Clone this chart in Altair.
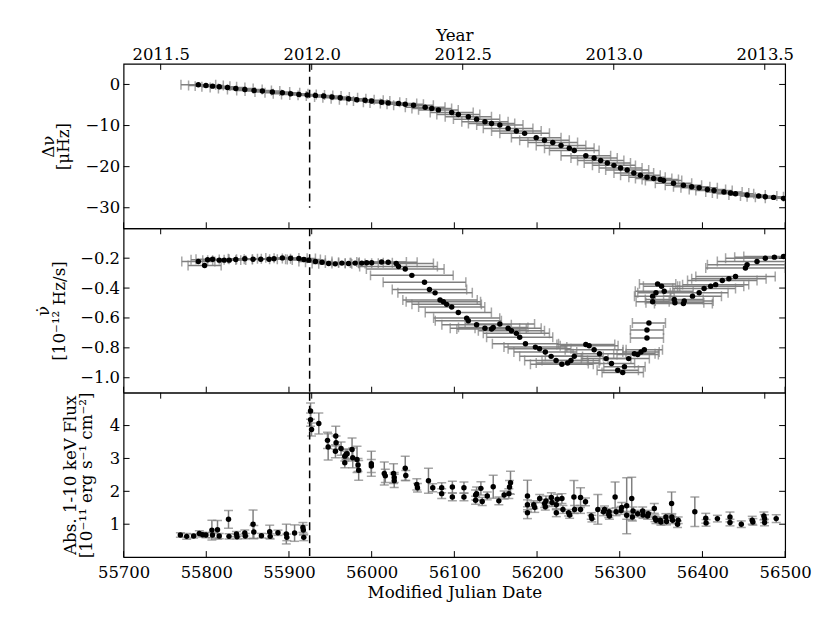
import altair as alt
import pandas as pd

# ---------------- data ----------------
dnu_mjd = [55790.4, 55799.6, 55807.6, 55815.7, 55825.7, 55835.7, 55846.6, 55857.8, 55867.9, 55879.9,
           55892.0, 55902.0, 55912.0, 55922.0, 55932.0, 55942.0, 55952.0, 55962.0, 55972.0, 55982.0,
           55992.0, 56000.0, 56012.0, 56020.0, 56032.5, 56040.6, 56050.6, 56064.7, 56072.7, 56080.7,
           56096.8, 56104.8, 56116.9, 56126.9, 56137.0, 56145.0, 56155.0, 56165.0, 56175.0, 56185.0,
           56199.0, 56209.0, 56219.0, 56229.0, 56239.0, 56245.0, 56259.0, 56269.0, 56277.0, 56285.0,
           56293.0, 56301.0, 56309.0, 56317.0, 56325.0, 56333.0, 56341.0, 56349.0, 56353.0, 56365.0,
           56377.0, 56387.0, 56396.0, 56406.0, 56414.0, 56426.0, 56434.0, 56440.0, 56454.0, 56468.0,
           56476.0, 56486.0, 56498.0]
dnu_val = [-0.09, -0.25, -0.41, -0.57, -0.73, -0.97, -1.21, -1.45, -1.61, -1.86,
           -2.02, -2.26, -2.42, -2.58, -2.66, -2.82, -3.06, -3.22, -3.46, -3.70,
           -3.86, -4.02, -4.34, -4.50, -4.66, -4.82, -5.06, -5.54, -5.87, -6.19,
           -6.84, -7.32, -7.88, -8.44, -9.08, -9.49, -9.89, -10.69, -11.33, -11.90,
           -12.94, -13.58, -14.14, -14.87, -15.51, -16.07, -17.36, -17.92, -18.48, -19.12,
           -19.69, -20.33, -20.81, -21.53, -22.10, -22.58, -22.90, -23.14, -23.38, -24.02,
           -24.51, -24.91, -25.15, -25.55, -25.79, -26.19, -26.43, -26.59, -26.92, -27.16,
           -27.32, -27.48, -27.72]
dnu_xerr = [21, 21, 21, 21, 21, 21, 21, 21, 21, 21,
            21, 21, 21, 21, 21, 21, 21, 21, 21, 21,
            22, 22, 22, 22, 22, 22, 24, 24, 24, 24,
            26, 26, 28, 28, 28, 28, 28, 30, 30, 30,
            30, 30, 30, 30, 30, 30, 30, 28, 28, 28,
            26, 26, 26, 24, 24, 22, 22, 22, 22, 22,
            22, 22, 22, 22, 22, 22, 22, 22, 22, 22,
            22, 22, 22]

nudot_mjd = [55790.4, 55798.0, 55801.6, 55807.6, 55815.7, 55821.7, 55827.7, 55835.7, 55846.6, 55856.6,
             55865.9, 55875.9, 55881.9, 55892.0, 55902.0, 55912.0, 55918.0, 55924.0, 55932.0, 55940.0,
             55948.0, 55956.0, 55964.0, 55972.0, 55980.0, 55988.0, 55994.0, 56000.0, 56012.0, 56020.0,
             56029.7, 56032.5, 56040.6, 56048.6, 56063.9, 56069.9, 56076.7, 56082.7, 56086.7, 56090.7,
             56096.8, 56104.8, 56114.9, 56116.9, 56126.9, 56137.0, 56145.0, 56147.0, 56155.0, 56165.0,
             56169.0, 56175.0, 56179.0, 56186.0, 56198.0, 56203.0, 56210.0, 56217.0, 56223.0, 56230.0,
             56237.0, 56241.0, 56245.0, 56259.0, 56263.0, 56269.0, 56275.5, 56283.5, 56290.0, 56297.6,
             56303.6, 56305.7, 56310.8, 56317.7, 56321.7, 56325.7, 56329.7, 56332.9, 56332.9, 56335.3,
             56339.8, 56339.8, 56343.8, 56345.8, 56350.6, 56353.8, 56365.9, 56366.7, 56377.0, 56378.0,
             56388.0, 56396.0, 56402.0, 56410.0, 56416.0, 56424.0, 56432.0, 56440.0, 56452.0, 56454.0,
             56466.0, 56476.0, 56487.0, 56498.0]
nudot_val = [-0.222, -0.249, -0.211, -0.207, -0.213, -0.213, -0.213, -0.209, -0.204, -0.207,
             -0.207, -0.207, -0.204, -0.198, -0.200, -0.202, -0.209, -0.213, -0.222, -0.227,
             -0.236, -0.238, -0.233, -0.236, -0.233, -0.233, -0.231, -0.231, -0.225, -0.227,
             -0.236, -0.256, -0.273, -0.315, -0.361, -0.410, -0.432, -0.480, -0.491, -0.509,
             -0.527, -0.564, -0.601, -0.619, -0.646, -0.669, -0.674, -0.663, -0.641, -0.669,
             -0.685, -0.703, -0.729, -0.773, -0.795, -0.806, -0.828, -0.857, -0.884, -0.910,
             -0.901, -0.884, -0.857, -0.778, -0.786, -0.813, -0.839, -0.872, -0.905, -0.950,
             -0.965, -0.927, -0.872, -0.839, -0.844, -0.828, -0.813, -0.734, -0.681, -0.634,
             -0.491, -0.454, -0.431, -0.372, -0.388, -0.421, -0.476, -0.498, -0.504, -0.487,
             -0.454, -0.431, -0.403, -0.388, -0.377, -0.350, -0.337, -0.322, -0.266, -0.244,
             -0.222, -0.200, -0.193, -0.189]
nudot_xerr = [20, 20, 20, 20, 20, 20, 20, 20, 20, 20,
              20, 20, 20, 20, 20, 20, 20, 20, 20, 20,
              20, 20, 20, 20, 20, 20, 20, 25, 30, 35,
              45, 47, 47, 50, 50, 45, 45, 45, 45, 42,
              40, 40, 40, 40, 42, 42, 42, 42, 42, 40,
              40, 40, 40, 40, 38, 38, 38, 38, 38, 38,
              38, 35, 35, 35, 35, 35, 32, 30, 28, 25,
              25, 25, 25, 25, 25, 22, 22, 20, 20, 20,
              20, 22, 22, 22, 22, 35, 35, 35, 35, 35,
              35, 35, 38, 40, 40, 42, 45, 48, 48, 48,
              48, 48, 48, 48]

flux_mjd = [55768.7, 55776.3, 55784.7, 55791.6, 55795.6, 55799.6, 55806.8, 55807.5, 55813.6, 55815.7,
            55826.9, 55827.5, 55836.5, 55837.2, 55846.6, 55847.2, 55856.6, 55857.5, 55866.7, 55876.7,
            55877.3, 55886.7, 55896.8, 55897.4, 55906.8, 55916.9, 55917.4, 55917.9,
            55926.1, 55926.1, 55927.3, 55936.1, 55946.6, 55947.4, 55956.2, 55956.6, 55957.0, 55963.0,
            55967.5, 55967.5, 55969.0, 55970.3, 55976.3, 55977.1, 55982.3, 55983.5, 55984.3, 55999.6,
            55999.6, 56015.3, 56016.5, 56026.5, 56027.3, 56027.3, 56040.6, 56041.3, 56054.6, 56055.4,
            56068.7, 56073.9, 56084.7, 56084.7, 56097.6, 56097.6, 56111.6, 56111.6, 56125.7, 56125.7,
            56126.9, 56132.1, 56133.7, 56139.8, 56147.0, 56153.8, 56160.2, 56165.9, 56166.7, 56167.9,
            56188.4, 56188.4, 56188.4, 56196.0, 56197.2, 56203.2, 56209.2, 56210.0, 56210.8, 56217.3,
            56218.1, 56223.3, 56223.3, 56224.5, 56230.1, 56231.3, 56238.2, 56239.4, 56244.6, 56245.4,
            56252.6, 56252.6, 56258.6, 56265.5, 56266.3, 56273.5, 56280.3, 56281.6, 56286.7, 56287.1,
            56287.5, 56294.4, 56295.6, 56301.6, 56302.4, 56308.4, 56308.4, 56314.5, 56315.3, 56316.1,
            56321.7, 56327.7, 56328.1, 56333.7, 56334.5, 56341.8, 56342.6, 56343.8, 56349.0, 56349.8,
            56355.8, 56356.6, 56362.7, 56363.0, 56363.9, 56369.9, 56370.7, 56390.8, 56404.0, 56404.4,
            56418.1, 56433.3, 56433.3, 56447.0, 56460.2, 56461.0, 56474.3, 56475.1, 56475.1, 56489.2]
flux_val = [0.67, 0.63, 0.64, 0.72, 0.68, 0.67, 0.82, 0.67, 0.83, 0.64,
            1.15, 0.63, 0.70, 0.62, 0.73, 0.64, 1.00, 0.76, 0.65, 0.77,
            0.63, 0.74, 0.70, 0.60, 0.73, 0.90, 0.82, 0.60,
            4.44, 4.18, 3.88, 4.06, 3.55, 3.35, 3.22, 3.68, 3.48, 3.30,
            3.07, 2.87, 3.12, 3.14, 3.27, 3.02, 2.97, 2.80, 2.64, 2.84,
            2.77, 2.54, 2.47, 2.54, 2.32, 2.42, 2.70, 2.48, 2.21, 2.11,
            2.32, 2.11, 2.11, 1.93, 2.13, 1.83, 2.11, 1.83, 1.89, 1.73,
            1.93, 2.09, 1.69, 1.86, 2.14, 1.71, 1.89, 1.93, 2.13, 2.26,
            1.86, 1.59, 1.35, 1.59, 1.51, 1.78, 1.63, 1.53, 1.71, 1.81,
            1.66, 1.35, 1.59, 1.76, 1.78, 1.45, 1.35, 1.28, 1.83, 1.45,
            1.81, 1.45, 1.68, 1.25, 1.17, 1.45, 1.38, 1.45, 1.30, 1.38,
            1.25, 1.83, 1.38, 1.42, 1.51, 1.56, 1.27, 1.78, 1.22, 1.40,
            1.32, 1.40, 1.28, 1.25, 1.32, 1.48, 1.18, 1.12, 1.12, 1.07,
            1.22, 1.08, 1.63, 1.22, 1.12, 1.00, 1.12, 1.38, 1.18, 1.04,
            1.17, 1.22, 1.05, 1.00, 1.12, 1.07, 1.25, 1.17, 1.05, 1.17]
flux_err = [0.07, 0.09, 0.06, 0.08, 0.07, 0.08, 0.30, 0.08, 0.28, 0.08,
            0.27, 0.08, 0.08, 0.07, 0.09, 0.08, 0.43, 0.20, 0.07, 0.20,
            0.08, 0.08, 0.30, 0.10, 0.25, 0.15, 0.15, 0.10,
            0.25, 0.20, 0.20, 0.32, 0.25, 0.40, 0.20, 0.30, 0.20, 0.20,
            0.15, 0.15, 0.15, 0.15, 0.35, 0.30, 0.40, 0.20, 0.30, 0.38,
            0.20, 0.35, 0.20, 0.30, 0.20, 0.15, 0.37, 0.15, 0.17, 0.13,
            0.38, 0.12, 0.15, 0.15, 0.18, 0.12, 0.17, 0.12, 0.15, 0.12,
            0.20, 0.20, 0.12, 0.12, 0.35, 0.12, 0.12, 0.15, 0.20, 0.35,
            0.48, 0.15, 0.18, 0.12, 0.15, 0.12, 0.12, 0.10, 0.15, 0.15,
            0.12, 0.12, 0.15, 0.15, 0.15, 0.12, 0.10, 0.10, 0.50, 0.12,
            0.30, 0.12, 0.12, 0.10, 0.10, 0.45, 0.12, 0.10, 0.10, 0.10,
            0.10, 0.45, 0.12, 0.12, 0.15, 0.85, 0.12, 0.65, 0.12, 0.12,
            0.10, 0.12, 0.10, 0.10, 0.10, 0.15, 0.10, 0.10, 0.10, 0.10,
            0.10, 0.10, 0.35, 0.10, 0.10, 0.10, 0.10, 0.45, 0.15, 0.10,
            0.10, 0.15, 0.10, 0.10, 0.12, 0.10, 0.12, 0.12, 0.10, 0.12]

mjd_ticks = [55700, 55800, 55900, 56000, 56100, 56200, 56300, 56400, 56500]
year_ticks = [2011.5, 2012.0, 2012.5, 2013.0, 2013.5]
dnu_ticks = [0, -10, -20, -30]
nudot_ticks = [-1.0, -0.8, -0.6, -0.4, -0.2]
flux_ticks = [1, 2, 3, 4]
outburst_mjd = [55925]

# ---------------- styling ----------------
W, H = 664, 165
FONT = "DejaVu Serif"
GRAY = "#808080"
TICK = 6
LFS = 16.5   # tick label font size
TFS = 16.8   # title font size
MJD_DOMAIN = [55700, 56500]


def mjd_to_year(m):
    return 2000 + (m - 51544.5) / 365.25


YEAR_DOMAIN = [mjd_to_year(MJD_DOMAIN[0]), mjd_to_year(MJD_DOMAIN[1])]
xs = alt.Scale(domain=MJD_DOMAIN, nice=False, zero=False)
xyear = alt.Scale(domain=YEAR_DOMAIN, nice=False, zero=False)


def panel(df, ydomain, yticks, yfmt, ytitle, title_pad, horizontal, top_axis, bottom_axis, dash_y=None):
    ys = alt.Scale(domain=ydomain, nice=False, zero=False)
    base = alt.Chart(df)
    layers = []
    if horizontal:
        layers.append(base.mark_rule(color=GRAY, strokeWidth=1.5, clip=True).encode(
            x=alt.X("lo:Q", scale=xs, axis=None), x2="hi:Q",
            y=alt.Y("val:Q", scale=ys, axis=None)))
        for f in ["lo", "hi"]:
            layers.append(base.mark_tick(orient="vertical", color=GRAY, size=10, thickness=1.5, clip=True).encode(
                x=alt.X(f + ":Q", scale=xs, axis=None),
                y=alt.Y("val:Q", scale=ys, axis=None)))
    else:
        layers.append(base.mark_rule(color=GRAY, strokeWidth=1.5, clip=True).encode(
            x=alt.X("mjd:Q", scale=xs, axis=None),
            y=alt.Y("lo:Q", scale=ys, axis=None), y2="hi:Q"))
        for f in ["lo", "hi"]:
            layers.append(base.mark_tick(orient="horizontal", color=GRAY, size=9, thickness=1.5, clip=True).encode(
                x=alt.X("mjd:Q", scale=xs, axis=None),
                y=alt.Y(f + ":Q", scale=ys, axis=None)))
    # points (carry the y axis)
    layers.append(base.mark_circle(size=30, color="black", opacity=1, clip=True).encode(
        x=alt.X("mjd:Q", scale=xs, axis=None),
        y=alt.Y("val:Q", scale=ys, axis=alt.Axis(
            values=yticks, format=yfmt, title=ytitle, ticks=False, domain=False, grid=False,
            labelPadding=4, titlePadding=title_pad, titleFontSize=TFS, titleLineHeight=16,
            labelFontSize=LFS, titleFont=FONT, labelFont=FONT, titleFontWeight="normal"))))
    # outburst dashed line
    dash_df = pd.DataFrame({"m": outburst_mjd})
    if dash_y is None:
        layers.append(alt.Chart(dash_df).mark_rule(color="black", strokeWidth=1.5, strokeDash=[8, 5]).encode(
            x=alt.X("m:Q", scale=xs, axis=None)))
    else:
        dash_df = dash_df.assign(y0=dash_y[0], y1=dash_y[1])
        layers.append(alt.Chart(dash_df).mark_rule(color="black", strokeWidth=1.5, strokeDash=[8, 5]).encode(
            x=alt.X("m:Q", scale=xs, axis=None),
            y=alt.Y("y0:Q", scale=ys, axis=None), y2="y1:Q"))
    # inward y ticks, left and right
    yt = pd.DataFrame({"t": yticks})
    layers.append(alt.Chart(yt).mark_rule(color="black", strokeWidth=1).encode(
        y=alt.Y("t:Q", scale=ys, axis=None), x=alt.value(0), x2=alt.value(TICK)))
    layers.append(alt.Chart(yt).mark_rule(color="black", strokeWidth=1).encode(
        y=alt.Y("t:Q", scale=ys, axis=None), x=alt.value(W), x2=alt.value(W - TICK)))
    # inward MJD ticks at the bottom (and the MJD axis labels on the last panel)
    mt = pd.DataFrame({"t": mjd_ticks})
    if bottom_axis:
        max_ = alt.Axis(values=mjd_ticks, format="d", title="Modified Julian Date", orient="bottom",
                        ticks=False, domain=False, grid=False, labelFlush=False, labelOverlap=False,
                        labelPadding=7, titlePadding=4, labelFontSize=LFS, titleFontSize=TFS,
                        labelFont=FONT, titleFont=FONT, titleFontWeight="normal")
    else:
        max_ = None
    layers.append(alt.Chart(mt).mark_rule(color="black", strokeWidth=1).encode(
        x=alt.X("t:Q", scale=xs, axis=max_), y=alt.value(H), y2=alt.value(H - TICK)))
    # inward year ticks at the top (and the Year axis labels on the first panel)
    yrt = pd.DataFrame({"t": year_ticks})
    if top_axis:
        yax = alt.Axis(values=year_ticks, format=".1f", title="Year", orient="top",
                       ticks=False, domain=False, grid=False, labelFlush=False, labelOverlap=False,
                       labelPadding=1, titlePadding=2, labelFontSize=LFS, titleFontSize=TFS,
                       labelFont=FONT, titleFont=FONT, titleFontWeight="normal")
    else:
        yax = None
    layers.append(alt.Chart(yrt).mark_rule(color="black", strokeWidth=1).encode(
        x=alt.X("t:Q", scale=xyear, axis=yax), y=alt.value(0), y2=alt.value(TICK)))
    return (alt.layer(*layers)
            .resolve_scale(x="independent")
            .resolve_axis(y="independent")
            .properties(width=W, height=H))


dnu_df = pd.DataFrame({"mjd": dnu_mjd, "val": dnu_val})
dnu_df["lo"] = [m - e for m, e in zip(dnu_mjd, dnu_xerr)]
dnu_df["hi"] = [m + e for m, e in zip(dnu_mjd, dnu_xerr)]

nd_df = pd.DataFrame({"mjd": nudot_mjd, "val": nudot_val})
nd_df["lo"] = [m - e for m, e in zip(nudot_mjd, nudot_xerr)]
nd_df["hi"] = [m + e for m, e in zip(nudot_mjd, nudot_xerr)]

fx_df = pd.DataFrame({"mjd": flux_mjd, "val": flux_val})
fx_df["lo"] = [v - e for v, e in zip(flux_val, flux_err)]
fx_df["hi"] = [v + e for v, e in zip(flux_val, flux_err)]

top = panel(dnu_df, [-35, 5], dnu_ticks, "d", ["Δν", "[μHz]"], 12, True, True, False, dash_y=(5, -30))
mid = panel(nd_df, [-1.1, 0.0], nudot_ticks, ".1f", ["ν̇", "[10⁻¹² Hz/s]"], 11, True, False, False)
bot = panel(fx_df, [0, 5], flux_ticks, "d", ["Abs. 1-10 keV Flux", "[10⁻¹¹ erg s⁻¹  cm⁻²]"], 14,
            False, False, True)

chart = alt.vconcat(top, mid, bot, spacing=0, bounds="flush").properties(
    padding={"left": 27, "top": 18, "right": 10, "bottom": 5}
).configure_view(
    stroke="black", strokeWidth=1.2
).configure_axis(
    labelColor="black", titleColor="black"
)

chart.save("out.html", embed_options={"renderer": "svg", "actions": False})
